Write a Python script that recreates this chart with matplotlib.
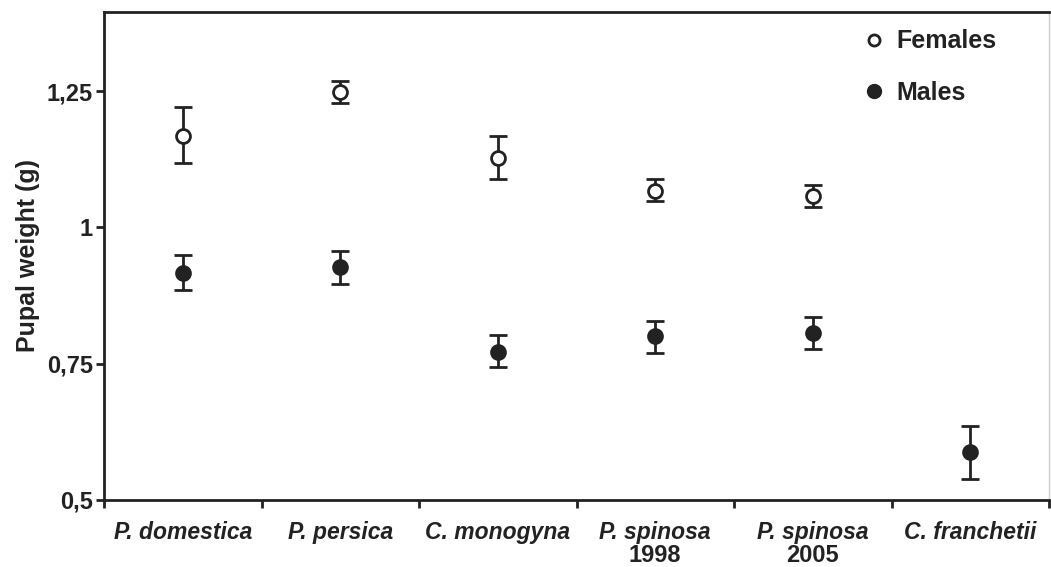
import matplotlib.pyplot as plt
import numpy as np

species = ['P. domestica', 'P. persica', 'C. monogyna', 'P. spinosa',
           'P. spinosa', 'C. franchetii']
years = ['', '', '', '1998', '2005', '']

# females (no value for C. franchetii)
fem_mean = [1.168, 1.249, 1.128, 1.066, 1.057]
fem_low = [1.118, 1.228, 1.088, 1.048, 1.037]
fem_high = [1.220, 1.268, 1.168, 1.088, 1.077]

male_mean = [0.917, 0.928, 0.772, 0.800, 0.806, 0.588]
male_low = [0.885, 0.897, 0.744, 0.770, 0.777, 0.538]
male_high = [0.950, 0.957, 0.803, 0.828, 0.836, 0.636]

yticks = [0.5, 0.75, 1.0, 1.25]
ytick_labels = ['0,5', '0,75', '1', '1,25']

plt.rcParams['font.family'] = ['Liberation Sans', 'DejaVu Sans']
dark = '#222222'

fig = plt.figure(figsize=(10.51, 5.67), dpi=100)
ax = fig.add_axes([104 / 1051, 67 / 567, 945 / 1051, 488 / 567])

x = np.arange(len(species)) + 0.5
xf = x[:len(fem_mean)]

fm = np.array(fem_mean)
ax.errorbar(xf, fm, yerr=[fm - np.array(fem_low), np.array(fem_high) - fm],
            fmt='o', ms=10, mfc='white', mec=dark, mew=2, ecolor=dark,
            elinewidth=2, capsize=6.5, capthick=2, zorder=3)
mm = np.array(male_mean)
ax.errorbar(x, mm, yerr=[mm - np.array(male_low), np.array(male_high) - mm],
            fmt='o', ms=10, mfc=dark, mec=dark, mew=2, ecolor=dark,
            elinewidth=2, capsize=6.5, capthick=2, zorder=3)

ax.set_xlim(0, len(species))
ax.set_ylim(0.5, 1.395)
ax.set_xticks(np.arange(len(species) + 1))
ax.set_xticklabels([])
ax.set_xticks(x, minor=True)
ax.set_xticklabels(species, minor=True, fontsize=16.5, fontweight='bold',
                   fontstyle='italic')
ax.tick_params(axis='x', which='minor', length=0, pad=15)
ax.tick_params(axis='x', which='major', length=6, width=2, color=dark)

# second line (year) in upright bold
trans = ax.get_xaxis_transform()
for xi, yr in zip(x, years):
    if yr:
        ax.text(xi, -0.091, yr, transform=trans, ha='center', va='top',
                fontsize=17, fontweight='bold', color=dark)

ax.set_yticks(yticks)
ax.set_yticklabels(ytick_labels, fontsize=17, fontweight='bold')
ax.tick_params(axis='y', length=6, width=2, color=dark, pad=2)
for lab in ax.get_xticklabels(minor=True) + ax.get_yticklabels():
    lab.set_color(dark)

for side in ['left', 'bottom', 'top']:
    ax.spines[side].set_linewidth(2)
    ax.spines[side].set_color(dark)
ax.spines['right'].set_color('#cccccc')
ax.spines['right'].set_linewidth(1)

ax.set_ylabel('Pupal weight (g)', fontsize=18, fontweight='bold', labelpad=5,
              color=dark)

ax.plot([], [], 'o', ms=8, mfc='white', mec=dark, mew=2, label='Females')
ax.plot([], [], 'o', ms=10, mfc=dark, mec=dark, label='Males')
fig.legend(loc='upper left', bbox_to_anchor=(849 / 1051, 1 - 17 / 567),
           frameon=False, prop={'weight': 'bold', 'size': 18},
           handletextpad=0.4, labelspacing=1.1, handlelength=1.0,
           borderpad=0, labelcolor=dark)

fig.savefig('out.png', dpi=100)
